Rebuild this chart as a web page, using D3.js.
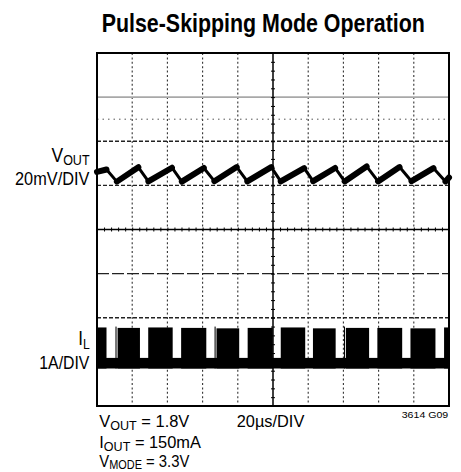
<!DOCTYPE html>
<html><head><meta charset="utf-8">
<script src="https://cdn.jsdelivr.net/npm/d3@7"></script>
<style>body{margin:0;background:#fff} svg{display:block}</style>
</head><body><svg id="c" width="461" height="472"></svg>
<script>
// ---------- data ----------
const xDivs = d3.range(0, 11);          // 10 horizontal divisions (20 µs/DIV)
const yDivs = d3.range(0, 9);           // 8 vertical divisions
const timeDomain = [0, 200];            // µs across the screen
// V_OUT trace (AC, mV relative to its reference line)
const voutT  = [0, 5.4, 11.3, 23.5, 29.2, 42.6, 48.2, 60.7, 66.7, 79.4, 85.4, 99.0, 104.4, 117.7, 122.8, 135.3, 140.7, 153.2, 159.7, 171.9, 178.7, 191.2, 198.0, 200];
const voutMV = [6.1, 7.2, 1.7, 8.2, 1.8, 8.0, 1.7, 7.9, 1.9, 8.3, 1.8, 8.3, 1.8, 7.8, 1.9, 7.9, 1.8, 8.6, 1.8, 8.3, 1.9, 7.8, 1.8, 3.6];
// I_L switching bursts (A)
const ilBurstStart = [0,   10.5, 11.7, 29.1, 47.8, 66.8, 67.9, 85.6, 104.4, 122.7, 140.3, 141.4, 159.3, 178.1, 197.2];
const ilBurstEnd   = [5.4, 11.1, 24.4, 43.0, 62.1, 67.4, 80.8, 99.9, 118.3, 135.6, 140.9, 154.6, 173.4, 192.3, 200];
const ilBurstPeak  = [0.78, 0.80, 0.77, 0.78, 0.77, 0.80, 0.76, 0.77, 0.78, 0.76, 0.80, 0.77, 0.77, 0.76, 0.78];
const ilBandLow = -0.15, ilBandHigh = 0.09;   // idle noise band (A)

// ---------- layout ----------
const L = 97, R = 449, T = 53, B = 406;
const svg = d3.select("#c");
const x = d3.scaleLinear().domain(timeDomain).range([L, R]);
const yDiv = d3.scaleLinear().domain([0, 8]).range([B, T]);
const yV = d3.scaleLinear().domain([-100, 60]).range([B, T]); // 20 mV/DIV, ref at div 5
const yI = d3.scaleLinear().domain([-1, 7]).range([B, T]);    // 1 A/DIV, ref at div 1
const xDiv = d3.scaleLinear().domain([0, 10]).range([L, R]);

const g = svg.append("g");

// vertical grid
g.selectAll(".vg").data(xDivs.filter(d => d > 0 && d < 10 && d !== 5)).join("line")
  .attr("x1", d => xDiv(d)).attr("x2", d => xDiv(d)).attr("y1", T).attr("y2", B)
  .attr("stroke", "#333").attr("stroke-width", 1.1).attr("stroke-dasharray", "2,2.4");

// horizontal grid with scope-like styles
const hStyles = [
  {d: 7,   stroke: "#a8a8a8", w: 1.6, dash: null},
  {d: 6.5, stroke: "#555",    w: 1,   dash: "1.5,4"},
  {d: 6,   stroke: "#222",    w: 1.4, dash: "4,2"},
  {d: 5,   stroke: "#222",    w: 1.4, dash: "4,2"},
  {d: 3,   stroke: "#222",    w: 1.4, dash: "12,3"},
  {d: 2,   stroke: "#222",    w: 1.4, dash: "4,2"},
  {d: 1,   stroke: "#222",    w: 1.4, dash: "4,2"}
];
g.selectAll(".hg").data(hStyles).join("line")
  .attr("x1", L).attr("x2", R).attr("y1", s => yDiv(s.d)).attr("y2", s => yDiv(s.d))
  .attr("stroke", s => s.stroke).attr("stroke-width", s => s.w)
  .attr("stroke-dasharray", s => s.dash);

// center axes with minor ticks
const cx = xDiv(5), cy = yDiv(4);
g.append("line").attr("x1", cx).attr("x2", cx).attr("y1", T).attr("y2", B).attr("stroke", "#000").attr("stroke-width", 1.5);
g.append("line").attr("x1", L).attr("x2", R).attr("y1", cy).attr("y2", cy).attr("stroke", "#000").attr("stroke-width", 1.5);
const ax = d3.axisBottom(x).tickValues(d3.range(0, 200.1, 4)).tickSize(4).tickFormat("");
g.append("g").attr("transform", `translate(0,${cy - 2})`).call(ax).call(s => s.select(".domain").remove())
  .selectAll("line").attr("stroke", "#000").attr("stroke-width", 1);
const ay = d3.axisRight(yDiv).tickValues(d3.range(0, 8.01, 0.2)).tickSize(4).tickFormat("");
g.append("g").attr("transform", `translate(${cx - 2},0)`).call(ay).call(s => s.select(".domain").remove())
  .selectAll("line").attr("stroke", "#000").attr("stroke-width", 1);

// I_L idle band and bursts
const traces = svg.append("g");
traces.append("rect")
  .attr("x", x(timeDomain[0])).attr("width", x(timeDomain[1]) - x(timeDomain[0]))
  .attr("y", yI(ilBandHigh)).attr("height", yI(ilBandLow) - yI(ilBandHigh)).attr("fill", "#000");
traces.selectAll(".burst").data(ilBurstStart.map((s, i) => ({s, e: ilBurstEnd[i], p: ilBurstPeak[i]}))).join("rect")
  .attr("x", d => x(d.s)).attr("width", d => x(d.e) - x(d.s))
  .attr("y", d => yI(d.p)).attr("height", d => yI(ilBandLow) - yI(d.p)).attr("fill", "#000");

// V_OUT trace
const vpts = voutT.map((t, i) => [t, voutMV[i]]);
const line = d3.line().x(d => x(d[0])).y(d => yV(d[1]));
traces.append("path").attr("d", line(vpts)).attr("fill", "none").attr("stroke", "#000")
  .attr("stroke-width", 3).attr("stroke-linejoin", "round");
const rising = d3.pairs(vpts).filter(([a, b]) => b[1] > a[1]);
traces.selectAll(".rise").data(rising).join("path").attr("d", d => line(d))
  .attr("fill", "none").attr("stroke", "#000").attr("stroke-width", 6).attr("stroke-linecap", "round");

// frame
svg.append("rect").attr("x", L).attr("y", T).attr("width", R - L).attr("height", B - T)
  .attr("fill", "none").attr("stroke", "#000").attr("stroke-width", 2);

// ---------- text ----------
const FONT = "'Liberation Sans', Arial, sans-serif";
function label(parts, x0, x1, baseline, weight) {
  const t = svg.append("text").attr("font-family", FONT).attr("font-weight", weight || "normal").attr("fill", "#000");
  parts.forEach(p => t.append("tspan").attr("y", p.dy || 0).attr("font-size", p.size).text(p.t));
  const bb = t.node().getBBox();
  const s = (x1 - x0) / bb.width;
  t.attr("transform", `translate(${x0 - bb.x * s},${baseline}) scale(${s},1)`);
  return t;
}
label([{t: "Pulse-Skipping Mode Operation", size: 26}], 101.7, 425, 31.7, "bold");

label([{t: "V", size: 19.5}, {t: "OUT", size: 14, dy: 2.5}], 51.5, 90, 162.2);
label([{t: "20mV/DIV", size: 18.5}], 15, 90, 185);
label([{t: "I", size: 19.5}, {t: "L", size: 14, dy: 3.5}], 78.3, 90, 345);
label([{t: "1A/DIV", size: 18.5}], 39.3, 90, 368.5);

label([{t: "V", size: 17}, {t: "OUT", size: 13, dy: 3}, {t: " = 1.8V", size: 17}], 99.3, 190, 427.3);
label([{t: "I", size: 17}, {t: "OUT", size: 13, dy: 3}, {t: " = 150mA", size: 17}], 99.3, 201.7, 447.8);
label([{t: "V", size: 17}, {t: "MODE", size: 12.5, dy: 2}, {t: " = 3.3V", size: 17}], 99.3, 190, 467);
label([{t: "20µs/DIV", size: 17}], 236.7, 305, 427.3);
label([{t: "3614 G09", size: 9}], 401.7, 448.3, 418.3);
</script></body></html>
